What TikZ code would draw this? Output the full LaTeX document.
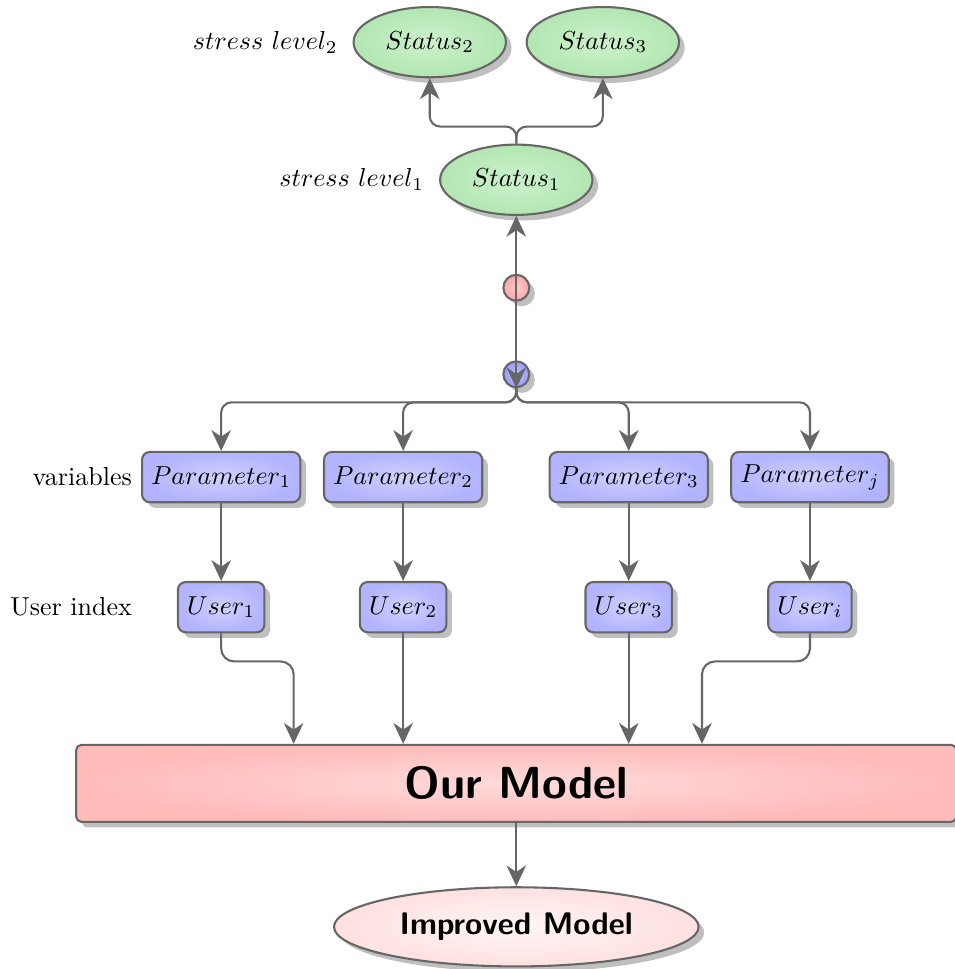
\documentclass[tikz,border=0pt]{standalone}
\usepackage{fontspec}
\usepackage{tikz}
\usetikzlibrary{arrows.meta,positioning,shapes.geometric,shadows}

\definecolor{statusout}{HTML}{B2E6B2}
\definecolor{statusin}{HTML}{CDF2CD}

\tikzset{
  status/.style={ellipse, draw=black!60, thick, shade, inner color=statusin,
    outer color=statusout, drop shadow, minimum width=2.06cm,
    minimum height=0.95cm, inner sep=0pt},
  param/.style={rectangle, rounded corners=3pt, draw=black!60, thick, shade,
    inner color=blue!18, outer color=blue!30, drop shadow,
    minimum height=0.68cm, inner xsep=3.5pt},
  joint/.style={circle, draw=black!60, thick, minimum size=0.35cm,
    inner sep=0pt, drop shadow},
  link/.style={draw=black!60, thick, rounded corners=4pt,
    -{Stealth[length=8pt,width=7.5pt,inset=2.5pt]}},
  thinlink/.style={link, rounded corners=5pt},
}

\begin{document}
\begin{tikzpicture}
    \useasboundingbox (0,0) rectangle (12.91,-13.10);
      %stress levels on top, the model at the bottom
    \node[status] (s1) at (6.98,-2.43) {$Status_1$};
    \node[status] (s2) at (5.81,-0.57) {$Status_2$};
    \node[status] (s3) at (8.15,-0.57) {$Status_3$};
    \node[left=0.08cm of s1] (ls1) {$stress\ level_1$};
    \node[left=0.08cm of s2] (ls2) {$stress\ level_2$};

    \node[joint, shade, inner color=red!20, outer color=red!35] (red) at (6.98,-3.89) {};
    \node[joint, shade, inner color=blue!25, outer color=blue!40] (blue) at (6.98,-5.06) {};

      %parameters and users, one column each
    \node[param] (p1) at (2.99,-6.45) {$Parameter_1$};
    \node[param] (p2) at (5.45,-6.45) {$Parameter_2$};
    \node[param] (p3) at (8.50,-6.45) {$Parameter_3$};
    \node[param] (pj) at (10.95,-6.45) {$Parameter_j$};
    \node[left=0pt of p1] (lv) {variables};

    \node[param, below=1.05cm of p1] (u1) {$User_1$};
    \node[param, below=1.05cm of p2] (u2) {$User_2$};
    \node[param, below=1.05cm of p3] (u3) {$User_3$};
    \node[param, below=1.05cm of pj] (ui) {$User_i$};
    \node[anchor=east] (lu) at (lv.east |- u1) {User index};

    \node[rectangle, rounded corners=2pt, draw=black!60, thick, shade,
      inner color=red!14, outer color=red!27, drop shadow,
      minimum width=11.9cm, minimum height=1.04cm] (model) at (6.98,-10.59)
      {\sffamily\bfseries\LARGE Our Model};
    \node[ellipse, draw=black!60, thick, shade, inner color=red!4,
      outer color=red!12, drop shadow, minimum width=4.93cm,
      minimum height=1.07cm] (improved) at (6.98,-12.53)
      {\sffamily\bfseries\large Improved Model};

      %connectors
    \draw[link] (s1.north) -- ++(0,0.23) -| (s2);
    \draw[link] (s1.north) -- ++(0,0.23) -| (s3);
    \draw[link] (red.center) -- (s1);
    \draw[link] (red.center) -- (blue.south);
    \foreach \p in {p1,p2,p3,pj}
      \draw[link] (blue.south) -- ++(0,-0.19) -| (\p);
    \draw[link] (p1) -- (u1);
    \draw[link] (p2) -- (u2);
    \draw[link] (p3) -- (u3);
    \draw[link] (pj) -- (ui);
    \draw[thinlink] (u1.south) -- ++(0,-0.38) -| ([xshift=-3.01cm]model.north);
    \draw[thinlink] (u2.south) -- (u2.south |- model.north);
    \draw[thinlink] (u3.south) -- (u3.south |- model.north);
    \draw[thinlink] (ui.south) -- ++(0,-0.38) -| ([xshift=2.51cm]model.north);
    \draw[thinlink] (model) -- (improved);
\end{tikzpicture}
\end{document}
